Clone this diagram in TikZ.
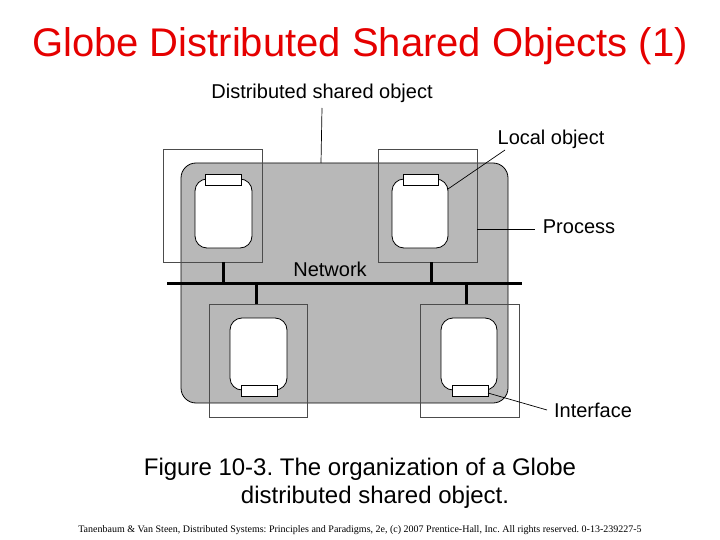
\documentclass[tikz,border=0pt]{standalone}
\usepackage{fontspec}
\setmainfont{Liberation Sans}
\newfontfamily\seriffont{Liberation Serif}
\frenchspacing
\begin{document}
\begin{tikzpicture}[x=1pt,y=-1pt,
  proc/.style={draw=black!70,line width=0.8pt},
  lobj/.style={draw=black,fill=white,rounded corners=12pt,line width=0.8pt},
  iface/.style={draw=black,fill=white,line width=0.8pt},
  lead/.style={draw=black,line width=0.7pt},
  wire/.style={line width=3pt},
  lbl/.style={font=\fontsize{20}{24}\selectfont,inner sep=0pt}]
\useasboundingbox (0,0) rectangle (720,540);
\node[text=red!90!black,font=\fontsize{40}{46}\selectfont] (title) at (360,46) {Globe Distributed Shared Objects (1)};
% shared object
\path[fill=black!28,draw=black,line width=0.8pt,rounded corners=15pt] (181,163) rectangle (508,403);
\coordinate (dsotop) at (321,163);
% processes
\draw[proc] (163,149) rectangle (262,262);
\draw[proc] (378,149) rectangle (477,262);
\draw[proc] (209,304) rectangle (307,417);
\draw[proc] (420,304) rectangle (519,417);
\coordinate (procR) at (477,229);
% local objects
\draw[lobj] (195,179) rectangle (252,248);
\draw[lobj] (392,179) rectangle (448,248);
\draw[lobj] (230,318) rectangle (287,390);
\draw[lobj] (441,318) rectangle (497,390);
\coordinate (lobjTR) at (448,189);
\draw[iface] (205,174) rectangle (241,185);
\draw[iface] (403,174) rectangle (438,185);
\draw[iface] (241,385) rectangle (277,396);
\draw[iface] (452,385) rectangle (488,396);
\coordinate (ifBR) at (488,393);
% network
\coordinate (n1) at (167,283); \coordinate (n2) at (522,283);
\draw[wire] (n1) -- (n2);
\draw[wire] (223,262) -- (223,283);
\draw[wire] (431,262) -- (431,283);
\draw[wire] (256,283) -- (256,304);
\draw[wire] (466,283) -- (466,304);
\node[lbl] (net) at (330,269) {Network};
% labels
\node[lbl] (dso) at (322,93) {Distributed shared object};
\node[lbl] (lo) at (551,139) {Local object};
\node[lbl] (pr) at (579,227) {Process};
\node[lbl] (if) at (593,410) {Interface};
\coordinate (dsoleg) at (322,108);
\draw[lead] (dsoleg) -- (dsotop);
\draw[lead] (505,150) -- (lobjTR);
\draw[lead] (procR) -- (535,229);
\draw[lead] (ifBR) -- (547,410);
% caption
\node[font=\fontsize{24}{28}\selectfont,anchor=center] (cap1) at (360,469) {Figure 10-3. The organization of a Globe};
\node[font=\fontsize{24}{28}\selectfont,anchor=center] (cap2) at (375,497) {distributed shared object.};
\node[font=\seriffont\fontsize{10}{11}\selectfont] (foot) at (360,530) {Tanenbaum \& Van Steen, Distributed Systems: Principles and Paradigms, 2e, (c) 2007 Prentice-Hall, Inc. All rights reserved. 0-13-239227-5};
\end{tikzpicture}
\end{document}
